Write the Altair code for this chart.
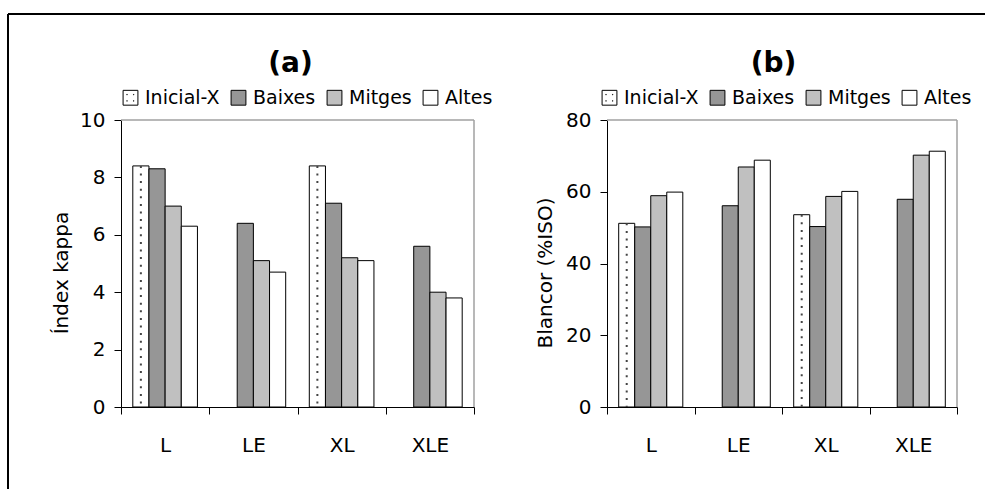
import altair as alt
import pandas as pd

categories = ["L", "LE", "XL", "XLE"]
series = ["Inicial-X", "Baixes", "Mitges", "Altes"]
colors = ["#ffffff", "#969696", "#c0c0c0", "#ffffff"]

# (a) Índex kappa
kappa_inicial = [8.4, None, 8.4, None]
kappa_baixes = [8.3, 6.4, 7.1, 5.6]
kappa_mitges = [7.0, 5.1, 5.2, 4.0]
kappa_altes = [6.3, 4.7, 5.1, 3.8]

# (b) Blancor (%ISO)
blancor_inicial = [51.2, None, 53.6, None]
blancor_baixes = [50.2, 56.1, 50.3, 57.9]
blancor_mitges = [58.9, 66.9, 58.7, 70.2]
blancor_altes = [59.9, 68.8, 60.1, 71.3]

kappa_ticks = [0, 2, 4, 6, 8, 10]
blancor_ticks = [0, 20, 40, 60, 80]


def long_df(lists):
    rows = []
    for s, vals in zip(series, lists):
        for c, v in zip(categories, vals):
            if v is not None:
                rows.append({"cat": c, "serie": s, "val": v})
    return pd.DataFrame(rows)


df_a = long_df([kappa_inicial, kappa_baixes, kappa_mitges, kappa_altes])
df_b = long_df([blancor_inicial, blancor_baixes, blancor_mitges, blancor_altes])

one = pd.DataFrame({"k": [0]})

DOT_SHAPE = ("M-1,-1H1V1H-1Z"
             "M-0.5,-0.45h0.06v0.06h-0.06Z"
             "M0.4,-0.45h0.06v0.06h-0.06Z"
             "M-0.5,0.4h0.06v0.06h-0.06Z"
             "M0.4,0.4h0.06v0.06h-0.06Z")
SYMBOL_EXPR = "datum.value === 'Inicial-X' ? '" + DOT_SHAPE + "' : 'square'"


def panel(df, title, ytitle, ymax, yvalues, W, H, title_x, ytitle_x, legend_x, frame=False):
    base = alt.Chart(df)
    x = alt.X(
        "cat:N", sort=categories,
        scale=alt.Scale(domain=categories, paddingInner=0, paddingOuter=0),
        axis=alt.Axis(title=None, labelAngle=0, tickBand="extent", tickSize=7,
                      labelPadding=21, domainColor="black", tickColor="black",
                      labelFontSize=20, labelColor="black", grid=False),
    )
    xo = alt.XOffset("serie:N", sort=series,
                     scale=alt.Scale(domain=series, paddingInner=0, paddingOuter=0.73))
    y = alt.Y(
        "val:Q", scale=alt.Scale(domain=[0, ymax], nice=False),
        axis=alt.Axis(values=yvalues, title=ytitle, titleFontSize=20,
                      titleFontWeight="normal", titleColor="black",
                      titleX=ytitle_x, titleY=H / 2 + 9, titleAngle=270,
                      titleAlign="center", titleBaseline="alphabetic",
                      tickSize=7, labelPadding=9, grid=False,
                      domainColor="black", tickColor="black",
                      labelFontSize=20, labelColor="black"),
    )
    fill = alt.Fill(
        "serie:N", sort=series,
        scale=alt.Scale(domain=series, range=colors),
        legend=alt.Legend(
            title=None, orient="none", legendX=legend_x, legendY=-32,
            direction="horizontal", symbolType=alt.ExprRef(expr=SYMBOL_EXPR),
            symbolSize=220,
            symbolStrokeColor="black", symbolStrokeWidth=1,
            labelFontSize=19, labelColor="black", labelOffset=5,
            columnPadding=9, symbolOpacity=1,
        ),
    )
    bars = base.mark_bar(stroke="black", strokeWidth=1).encode(
        x=x, xOffset=xo, y=y, fill=fill
    )
    dots = base.transform_filter(alt.datum.serie == "Inicial-X").mark_rule(
        color="#444444", strokeWidth=2, strokeDash=[2, 5.6]
    ).encode(x=x, xOffset=xo, y=y, y2=alt.datum(0))

    top_line = alt.Chart(one).mark_rule(color="#a0a0a0", strokeWidth=1.5).encode(
        x=alt.value(0), x2=alt.value(W), y=alt.value(0))
    right_line = alt.Chart(one).mark_rule(color="#a0a0a0", strokeWidth=1.5).encode(
        x=alt.value(W), y=alt.value(0), y2=alt.value(H))
    title_mark = alt.Chart(one).mark_text(
        text=title, fontSize=28, fontWeight="bold", color="black",
        align="center", baseline="alphabetic"
    ).encode(x=alt.value(title_x), y=alt.value(-48.5))
    layers = [bars, dots, top_line, right_line, title_mark]
    if frame:
        layers.append(alt.Chart(one).mark_rule(color="black", strokeWidth=2).encode(
            x=alt.value(-113), x2=alt.value(864), y=alt.value(-106)))
        layers.append(alt.Chart(one).mark_rule(color="black", strokeWidth=2).encode(
            x=alt.value(-113), y=alt.value(-106), y2=alt.value(369)))
    return alt.layer(*layers).properties(width=W, height=H)


pa = panel(df_a, "(a)", "Índex kappa", 10, kappa_ticks, 353, 287, 169.5, -54, 0, frame=True)
pb = panel(df_b, "(b)", "Blancor (%ISO)", 80, blancor_ticks, 350, 287, 166.5, -56, -7)

chart = alt.hconcat(pa, pb, spacing=133, bounds="flush").resolve_scale(
    y="independent", fill="independent", x="independent", xOffset="independent"
).resolve_legend(fill="independent").properties(
    padding={"left": 7, "top": 13, "right": 0, "bottom": 0}
).configure(
    font="DejaVu Sans", background="white"
).configure_view(stroke=None)

chart.save("out.html", embed_options={"renderer": "svg", "actions": False})
